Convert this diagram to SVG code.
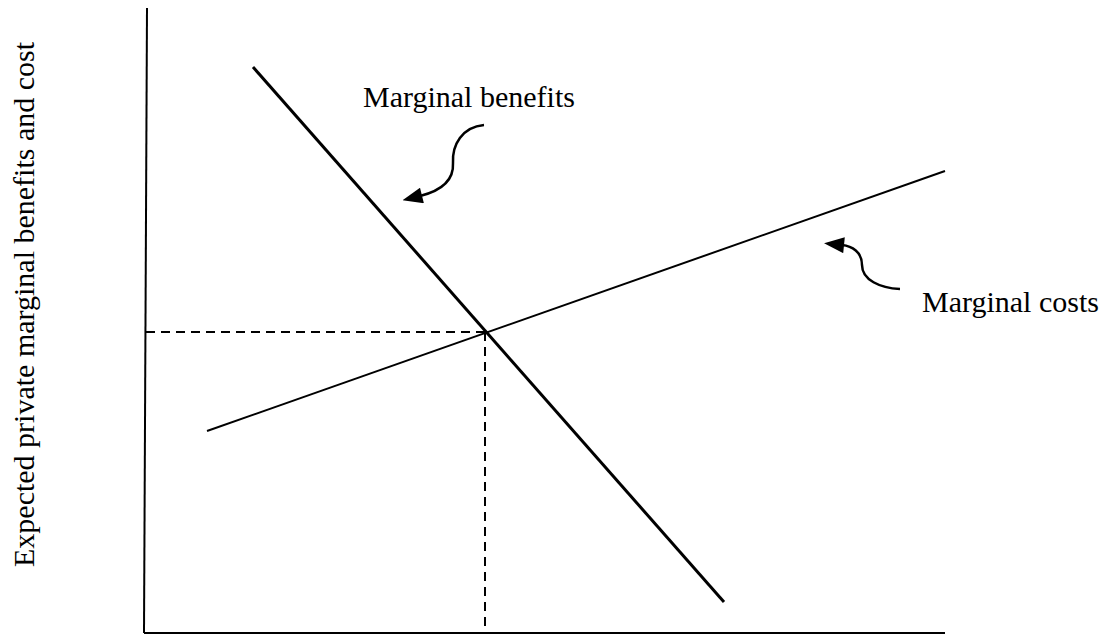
<svg xmlns="http://www.w3.org/2000/svg" width="1117" height="641" viewBox="0 0 1117 641">
<style>
.lbl{font-family:"Liberation Serif","Times New Roman",serif;font-size:30px;fill:#000}
.ax{stroke:#000;stroke-width:2;fill:none}
.dash{stroke:#000;stroke-width:2;stroke-dasharray:9 6;fill:none}
.arr{stroke:#000;stroke-width:2.5;fill:none;marker-end:url(#ah)}
</style>
<defs>
<marker id="ah" markerUnits="userSpaceOnUse" markerWidth="22" markerHeight="16" refX="4" refY="8" orient="auto" viewBox="0 0 22 16">
<path d="M0,8 L20,0 L20,16 Z" transform="rotate(180 11 8)" fill="#000"/>
</marker>
</defs>
<rect width="1117" height="641" fill="#fff"/>
<g id="axes">
<line class="ax" x1="147" y1="8" x2="144" y2="633"/>
<line class="ax" x1="144" y1="633" x2="945" y2="633"/>
</g>
<g id="connectors">
<line class="dash" x1="146" y1="332" x2="485" y2="332"/>
<line class="dash" x1="485" y1="332" x2="485" y2="632"/>
<path class="arr" d="M484,125 C462,127 452,145 453,163 C454,181 440,191 420,196"/>
<path class="arr" d="M900,289 C880,288 862,280 862,265 C862,252 852,246 842,245"/>
</g>
<g id="mb-curve">
<line x1="253" y1="67" x2="724" y2="602" stroke="#000" stroke-width="3"/>
</g>
<g id="mc-curve">
<line x1="207" y1="431" x2="945" y2="171" stroke="#000" stroke-width="2"/>
</g>
<g id="label-mb"><text class="lbl" x="363" y="107">Marginal benefits</text></g>
<g id="label-mc"><text class="lbl" x="922" y="312">Marginal costs</text></g>
<g id="label-y"><text class="lbl" transform="translate(34,567) rotate(-90)">Expected private marginal benefits and cost</text></g>
</svg>
